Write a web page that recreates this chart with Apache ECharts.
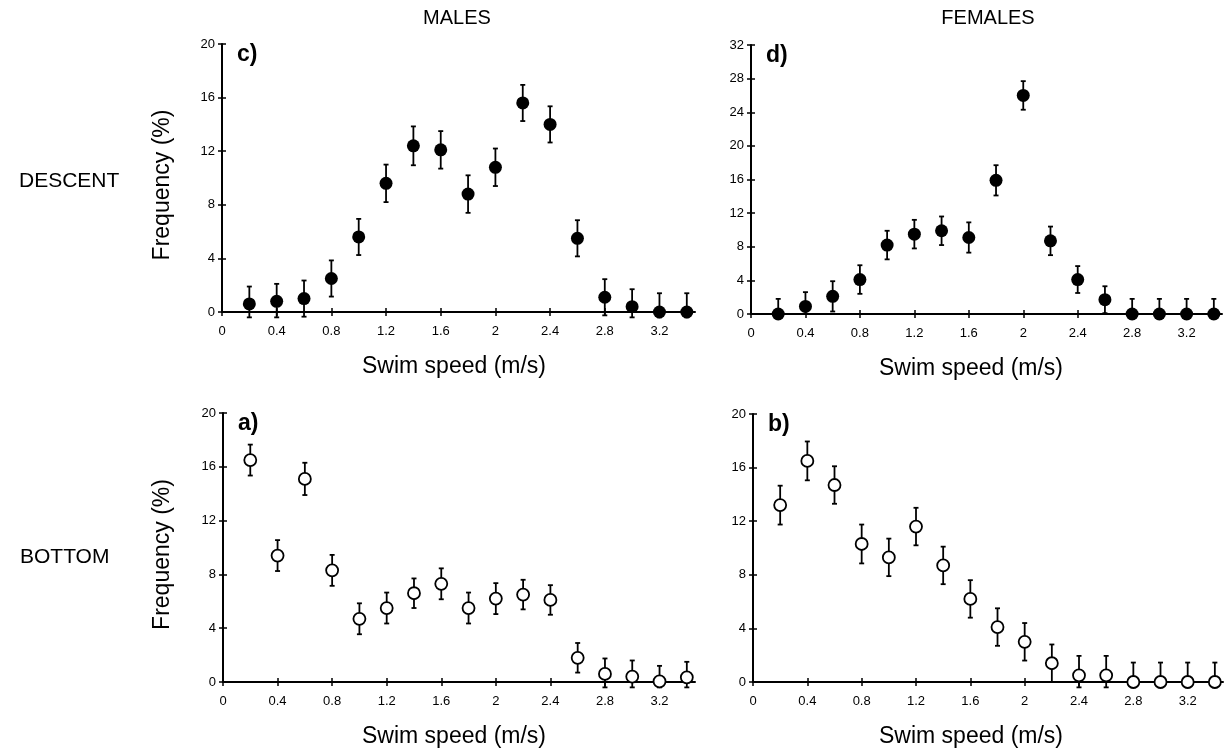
<!DOCTYPE html>
<html><head><meta charset="utf-8">
<script src="https://cdn.jsdelivr.net/npm/echarts@6/dist/echarts.min.js"></script>
<style>html,body{margin:0;padding:0;background:#fff}#chart{width:1224px;height:749px}</style>
</head><body><div id="chart"></div>
<script>
// ---- data ----
const speeds = [0.2,0.4,0.6,0.8,1.0,1.2,1.4,1.6,1.8,2.0,2.2,2.4,2.6,2.8,3.0,3.2,3.4];
const xTickValues = [0,0.4,0.8,1.2,1.6,2.0,2.4,2.8,3.2];
const yTicksMalesDescent = [0,4,8,12,16,20];
const yTicksFemalesDescent = [0,4,8,12,16,20,24,28,32];
const yTicksBottom = [0,4,8,12,16,20];

const descentMales    = [0.6,0.8,1.0,2.5,5.6,9.6,12.4,12.1,8.8,10.8,15.6,14.0,5.5,1.1,0.4,0,0];
const descentMalesErr = [1.3,1.3,1.35,1.35,1.35,1.4,1.45,1.4,1.4,1.4,1.35,1.35,1.35,1.35,1.3,1.4,1.4];
const descentFemales    = [0,0.9,2.1,4.1,8.2,9.5,9.9,9.1,15.9,26.0,8.7,4.1,1.7,0,0,0,0];
const descentFemalesErr = [1.8,1.7,1.8,1.7,1.7,1.7,1.7,1.8,1.8,1.7,1.7,1.6,1.6,1.8,1.8,1.8,1.8];
const bottomMales    = [16.5,9.4,15.1,8.3,4.7,5.5,6.6,7.3,5.5,6.2,6.5,6.1,1.8,0.6,0.4,0.05,0.35];
const bottomMalesErr = [1.15,1.15,1.2,1.15,1.15,1.15,1.1,1.15,1.15,1.15,1.1,1.1,1.1,1.15,1.2,1.15,1.15];
const bottomFemales    = [13.2,16.5,14.7,10.3,9.3,11.6,8.7,6.2,4.1,3.0,1.4,0.5,0.5,0,0,0,0];
const bottomFemalesErr = [1.45,1.45,1.4,1.45,1.4,1.4,1.4,1.4,1.4,1.4,1.4,1.45,1.45,1.45,1.45,1.45,1.45];

const panelLabels = ['c)','d)','a)','b)'];
const columnTitles = ['MALES','FEMALES'];
const rowTitles = ['DESCENT','BOTTOM'];
const xName = 'Swim speed (m/s)';
const yName = 'Frequency (%)';

// ---- layout ----
const FONT = "'Liberation Sans', Arial, sans-serif";
const panels = [
  {vals: descentMales, errs: descentMalesErr, yTicks: yTicksMalesDescent, filled: true, floor: -0.4, yName: true, nameX: 454,
   g: {left: 222, top: 44, width: 473, height: 268}},
  {vals: descentFemales, errs: descentFemalesErr, yTicks: yTicksFemalesDescent, filled: true, floor: 0, yName: false, nameX: 971,
   g: {left: 751, top: 45, width: 471, height: 269}},
  {vals: bottomMales, errs: bottomMalesErr, yTicks: yTicksBottom, filled: false, floor: -0.4, yName: true, nameX: 454,
   g: {left: 223, top: 413, width: 472, height: 269}},
  {vals: bottomFemales, errs: bottomFemalesErr, yTicks: yTicksBottom, filled: false, floor: -0.4, yName: false, nameX: 971,
   g: {left: 753, top: 414, width: 470, height: 268}}
];
const X_MAX = 3.46;

const grid = [], xAxis = [], yAxis = [], series = [], graphic = [];
const axisLineStyle = {color: '#000', width: 2};
const tickLine = {color: '#000', width: 1.5};

panels.forEach((p, i) => {
  grid.push(Object.assign({}, p.g));
  grid.push(Object.assign({}, p.g)); // overlay for inward ticks
  const yMax = p.yTicks[p.yTicks.length - 1];
  xAxis.push({gridIndex: 2*i, type: 'value', min: 0, max: X_MAX, interval: 0.4,
    axisLine: {show: true, onZero: false, lineStyle: axisLineStyle},
    axisTick: {show: true, inside: false, length: 4, lineStyle: tickLine, customValues: xTickValues},
    axisLabel: {show: true, margin: 13, fontFamily: FONT, fontSize: 13, color: '#000',
      customValues: xTickValues, formatter: v => String(+(+v).toFixed(1))},
    splitLine: {show: false}});
  yAxis.push({gridIndex: 2*i, type: 'value', min: 0, max: yMax, interval: 4,
    axisLine: {show: true, onZero: false, lineStyle: axisLineStyle},
    axisTick: {show: true, inside: false, length: 4, lineStyle: tickLine, customValues: p.yTicks},
    axisLabel: {show: true, margin: 7, fontFamily: FONT, fontSize: 13, color: '#000', customValues: p.yTicks},
    splitLine: {show: false}});
  xAxis.push({gridIndex: 2*i+1, type: 'value', min: 0, max: X_MAX, interval: 0.4,
    axisLine: {show: false}, axisLabel: {show: false}, splitLine: {show: false},
    axisTick: {show: true, inside: true, length: 4, lineStyle: tickLine, customValues: xTickValues}});
  yAxis.push({gridIndex: 2*i+1, type: 'value', min: 0, max: yMax, interval: 4,
    axisLine: {show: false}, axisLabel: {show: false}, splitLine: {show: false},
    axisTick: {show: true, inside: true, length: 4, lineStyle: tickLine, customValues: p.yTicks}});

  const floor = p.floor;
  series.push({
    type: 'custom', xAxisIndex: 2*i, yAxisIndex: 2*i, clip: false, z: 3, silent: true,
    data: speeds.map((s, j) => [s, Math.max(p.vals[j] - p.errs[j], floor), p.vals[j] + p.errs[j]]),
    encode: {x: 0, y: [1, 2]},
    renderItem: (params, api) => {
      const x = api.value(0);
      const lo = api.coord([x, api.value(1)]);
      const hi = api.coord([x, api.value(2)]);
      const cap = 2.5;
      const st = {stroke: '#000', lineWidth: 1.8};
      return {type: 'group', children: [
        {type: 'line', shape: {x1: hi[0], y1: hi[1], x2: lo[0], y2: lo[1]}, style: st},
        {type: 'line', shape: {x1: hi[0]-cap, y1: hi[1], x2: hi[0]+cap, y2: hi[1]}, style: st},
        {type: 'line', shape: {x1: lo[0]-cap, y1: lo[1], x2: lo[0]+cap, y2: lo[1]}, style: st}
      ]};
    }
  });
  series.push({
    type: 'scatter', xAxisIndex: 2*i, yAxisIndex: 2*i, clip: false, z: 5, silent: true,
    symbol: 'circle', symbolSize: p.filled ? 13 : 12,
    itemStyle: p.filled ? {color: '#000', opacity: 1} : {color: '#fff', borderColor: '#000', borderWidth: 1.8, opacity: 1},
    data: speeds.map((s, j) => [s, p.vals[j]])
  });

  graphic.push({type: 'text', left: p.g.left + 15, top: p.g.top - 1,
    style: {text: panelLabels[i], font: `bold 23px ${FONT}`, fill: '#000'}});
  graphic.push({type: 'text', x: p.nameX, y: p.g.top + p.g.height + 55,
    style: {text: xName, font: `23px ${FONT}`, fill: '#000', align: 'center', verticalAlign: 'middle'}});
  if (p.yName) {
    graphic.push({type: 'text', x: 163, y: p.g.top + p.g.height/2 + 7, rotation: Math.PI/2,
      style: {text: yName, font: `23px ${FONT}`, fill: '#000', align: 'center', verticalAlign: 'middle'}});
  }
});

graphic.push({type: 'text', x: 457, y: 18, style: {text: columnTitles[0], font: `20px ${FONT}`, fill: '#000', align: 'center', verticalAlign: 'middle'}});
graphic.push({type: 'text', x: 988, y: 18, style: {text: columnTitles[1], font: `20px ${FONT}`, fill: '#000', align: 'center', verticalAlign: 'middle'}});
graphic.push({type: 'text', x: 19, y: 181, style: {text: rowTitles[0], font: `21px ${FONT}`, fill: '#000', align: 'left', verticalAlign: 'middle'}});
graphic.push({type: 'text', x: 20, y: 557, style: {text: rowTitles[1], font: `21px ${FONT}`, fill: '#000', align: 'left', verticalAlign: 'middle'}});

const chart = echarts.init(document.getElementById('chart'), null, {renderer: 'canvas'});
chart.setOption({animation: false, backgroundColor: '#fff', grid, xAxis, yAxis, series, graphic});
</script></body></html>
